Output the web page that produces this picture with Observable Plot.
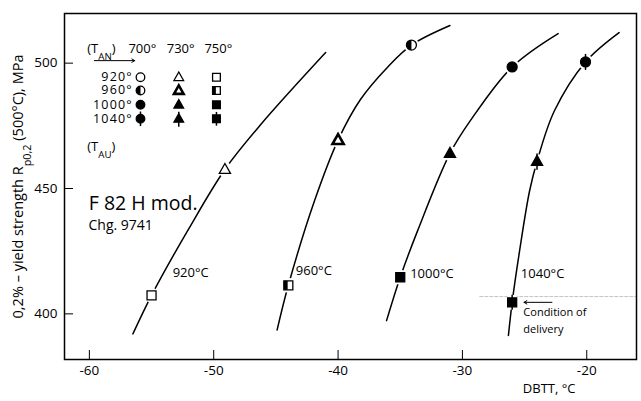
<!DOCTYPE html>
<html><head><meta charset="utf-8">
<script src="https://cdn.jsdelivr.net/npm/d3@7"></script>
<script src="https://cdn.jsdelivr.net/npm/@observablehq/plot@0.6"></script>
<style>body{margin:0;background:#fff}#chart svg{display:block}</style>
</head><body><div id="chart"></div><script>
// ---- data ----
const tauLevels = [920, 960, 1000, 1040];       // austenitizing T (°C)
const tanLevels = [700, 730, 750];              // annealing T (°C)
const xTicks = [-60, -50, -40, -30, -20];
const yTicks = [400, 450, 500];

const pointTau  = [920, 920, 960, 960, 960, 1000, 1000, 1000, 1040, 1040, 1040];
const pointTan  = [750, 730, 750, 730, 700, 750, 730, 700, 750, 730, 700];
const pointDbtt = [-55.0, -49.1, -44.0, -40.0, -34.1, -35.0, -31.0, -26.0, -26.0, -24.0, -20.1];
const pointRp   = [407.4, 457.6, 411.4, 469.3, 507.2, 414.6, 464.0, 498.5, 404.6, 460.8, 500.5];

const curve920  = [[-56.5,392.0],[-55.0,407.4],[-52.0,434.0],[-49.1,457.6],[-46.2,475.6],[-41.0,504.2]];
const curve960  = [[-44.9,393.6],[-44.0,411.4],[-41.9,445.0],[-40.0,469.3],[-38.2,485.5],[-36.0,498.5],[-34.1,507.2],[-31.0,515.0]];
const curve1000 = [[-36.1,397.3],[-35.0,414.6],[-33.6,433.2],[-31.0,464.0],[-29.3,477.5],[-26.0,498.5],[-22.3,511.8]];
const curve1040 = [[-26.3,391.4],[-26.0,404.6],[-25.4,425.2],[-24.6,449.0],[-24.0,460.8],[-22.6,481.0],[-20.1,500.5],[-17.4,512.2]];
const curves = [curve920, curve960, curve1000, curve1040];

const curveLabels = ["920°C", "960°C", "1000°C", "1040°C"];
const rowLabels = ["920°", "960°", "1000°", "1040°"];
const colLabels = ["700°", "730°", "750°"];
const yLabel = "0,2% – yield strength R_{p0,2} (500°C), MPa";
const xLabel = "DBTT, °C";
const deliveryLabel = ["Condition of", "delivery"];
const deliveryRp = 404.6;

// ---- layout (annotation anchors in data units) ----
const xDomain = [-62, -16], yDomain = [381.8, 519.8];
const W = 641, H = 401, mL = 64, mR = 5, mT = 13, mB = 42;
const curveLabelPos = [[-53.3,416.2],[-43.4,417.0],[-34.2,416.0],[-25.3,416.0]];
const legColX = [-55.89, -52.81, -49.78];
const legRowY = [494.4, 489.1, 483.4, 477.8];
const legHeadY = 505.7, legLeftX = -60.17, legTextEndX = -56.5;

// ---- build tables ----
const points = pointTau.map((t, i) => ({tau: t, tan: pointTan[i], x: pointDbtt[i], y: pointRp[i]}));
const curveRows = curves.flatMap((c, k) => c.map(([x, y]) => ({k, x, y})));
const legendPts = tauLevels.flatMap((tau, i) => tanLevels.map((tan, j) => ({tau, tan, x: legColX[j], y: legRowY[i]})));

// ---- symbols ----
const R = s => Math.sqrt(s / Math.PI);
const sym = {
  circle:   {draw(c, s){const r = R(s); c.moveTo(r, 0); c.arc(0, 0, r, 0, 2*Math.PI); c.closePath();}},
  triangle: {draw(c, s){const r = R(s); c.moveTo(0, -1.2*r); c.lineTo(1.12*r, 0.78*r); c.lineTo(-1.12*r, 0.78*r); c.closePath();}},
  square:   {draw(c, s){const a = 0.9*R(s); c.rect(-a, -a, 2*a, 2*a);}}
};
const half = {
  circle: {draw(c, s){const r = R(s); c.moveTo(0, -r); c.arc(0, 0, r, -Math.PI/2, Math.PI/2, true); c.closePath();}},
  square: {draw(c, s){const a = 0.9*R(s); c.rect(-a, -a, 0.85*a, 2*a);}}
};
const stem = {
  circle:   {draw(c, s){const r = R(s); c.moveTo(0, -r-3); c.lineTo(0, r+3);}},
  triangle: {draw(c, s){const r = R(s); c.moveTo(0, 0.78*r); c.lineTo(0, 0.78*r+4.5); c.moveTo(0, -1.2*r); c.lineTo(0, -1.2*r-2);}},
  square:   {draw(c, s){const a = 0.9*R(s); c.moveTo(0, -a-3); c.lineTo(0, a+3);}}
};
const shapeOf = {700: "circle", 730: "triangle", 750: "square"};

function markers(data, r) {
  const marks = [];
  for (const tan of tanLevels) for (const tau of tauLevels) {
    const sub = data.filter(d => d.tan === tan && d.tau === tau);
    if (!sub.length) continue;
    const shape = shapeOf[tan];
    const filled = tau >= 1000;
    const thick = tau === 960 && tan === 730;
    marks.push(Plot.dot(sub, {x: "x", y: "y", r, symbol: sym[shape], fill: filled ? "black" : "white", stroke: "black", strokeWidth: thick ? 2.6 : 1.3}));
    if (tau === 960 && half[shape]) marks.push(Plot.dot(sub, {x: "x", y: "y", r, symbol: half[shape], fill: "black", stroke: "none"}));
    if (tau === 1040) marks.push(Plot.dot(sub, {x: "x", y: "y", r, symbol: stem[shape], fill: "none", stroke: "black", strokeWidth: 1.5}));
  }
  return marks;
}

const plot = Plot.plot({
  width: W, height: H, marginLeft: mL, marginRight: mR, marginTop: mT, marginBottom: mB,
  style: {fontFamily: "'Open Sans', 'Noto Sans', sans-serif", fontSize: "13px", background: "white", color: "black"},
  x: {domain: xDomain},
  y: {domain: yDomain},
  marks: [
    Plot.axisX({ticks: xTicks, tickSize: 0, tickPadding: 6, tickFormat: d => String(d), label: null, fontSize: 13.5}),
    Plot.axisY({ticks: yTicks, tickSize: 0, tickPadding: 7, label: null, fontSize: 13.5}),
    Plot.tickX(xTicks, {x: d => d, insetTop: (H - mT - mB) - 9, strokeWidth: 1}),
    Plot.tickY(yTicks, {y: d => d, insetRight: (W - mL - mR) - 9, strokeWidth: 1}),
    Plot.ruleY([deliveryRp + 2.3], {x1: -28.6, x2: xDomain[1], stroke: "#c4c4c4", strokeWidth: 1, strokeDasharray: "4,1"}),
    Plot.line(curveRows, {x: "x", y: "y", z: "k", curve: "catmull-rom", stroke: "black", strokeWidth: 1.5}),
    Plot.dot(points, {x: "x", y: "y", r: 7.5, fill: "white"}),
    ...markers(points, 5),
    ...markers(legendPts, 4.3),
    Plot.text(curveLabels, {x: (d, i) => curveLabelPos[i][0], y: (d, i) => curveLabelPos[i][1], text: d => d, textAnchor: "start", fontSize: 13}),
    Plot.text(["(T_{AN})"], {x: legLeftX, y: legHeadY, text: d => d, textAnchor: "start", fontSize: 13}),
    Plot.text(colLabels, {x: (d, i) => legColX[i] + 0.15, y: legHeadY, text: d => d, fontSize: 13}),
    Plot.text(rowLabels, {x: legTextEndX, y: (d, i) => legRowY[i], text: d => d, textAnchor: "end", fontSize: 12.5}),
    Plot.text(["(T_{AU})"], {x: legLeftX, y: 466.5, text: d => d, textAnchor: "start", fontSize: 13}),
    Plot.arrow([0], {x1: -59.6, x2: -56.35, y1: 501.0, y2: 501.0, stroke: "black", strokeWidth: 1, headLength: 5}),
    Plot.text(["F 82 H mod."], {x: -60.05, y: 444.1, text: d => d, textAnchor: "start", fontSize: 19.5}),
    Plot.text(["Chg. 9741"], {x: -60.07, y: 435.2, text: d => d, textAnchor: "start", fontSize: 14}),
    Plot.arrow([0], {x1: -22.8, x2: -25.05, y1: deliveryRp, y2: deliveryRp, stroke: "black", strokeWidth: 1, headLength: 5}),
    Plot.text(deliveryLabel, {x: -25.1, y: (d, i) => [400.7, 393.8][i], text: d => d, textAnchor: "start", fontSize: 11}),
    Plot.text([yLabel], {text: d => d, frameAnchor: "left", textAnchor: "middle", rotate: -90, dx: -46, fontSize: 14.5, fill: "black"}),
    Plot.text([xLabel], {text: d => d, frameAnchor: "bottom-right", dx: -61, dy: 33, textAnchor: "end", fontSize: 13, fill: "black"}),
    Plot.frame({stroke: "black", strokeWidth: 1.5})
  ]
});

// subscripts and legend row spacing
plot.querySelectorAll("text").forEach(el => {
  const t = el.textContent;
  if (t.includes("_{")) {
    const esc = t.replace(/&/g, "&amp;").replace(/</g, "&lt;");
    el.innerHTML = esc.replace(/_\{([^}]*)\}/g, '<tspan baseline-shift="sub" font-size="75%">$1</tspan>');
  }
  if (rowLabels.includes(t)) el.style.letterSpacing = "1.2px";
});
document.getElementById("chart").append(plot);
</script></body></html>
